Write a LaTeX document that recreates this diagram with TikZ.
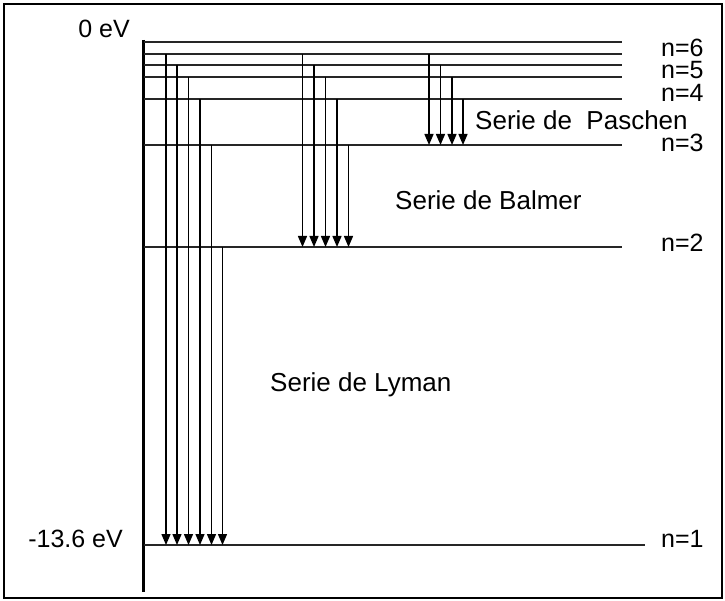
\documentclass[tikz,border=0pt]{standalone}
\usepackage{fontspec}
\setmainfont{Liberation Sans}
\usetikzlibrary{arrows.meta}
\begin{document}
\begin{tikzpicture}[x=1pt,y=-1pt,
  frame/.style={draw=black,line width=2pt},
  axisline/.style={draw=black,line width=3.5pt},
  level/.style={draw=black!85,line width=1.4pt},
  arr/.style={draw=black,line width=1.4pt,-{Triangle[width=9pt,length=11pt]}},
  lbl/.style={inner sep=0pt,font=\fontsize{25}{28}\selectfont},
  serie/.style={inner sep=0pt,anchor=west,font=\fontsize{26}{30}\selectfont}]
\useasboundingbox (0,0) rectangle (725,601);
\draw[frame] (4,4) rectangle (722,598);
% axis
\coordinate (axtop) at (143.5,40);
\coordinate (axbot) at (143.5,592);
\draw[axisline] (axtop) -- (axbot);
% levels (left end on axis, right end)
\foreach \nm/\y/\xe in {lA/42/622, lB/54/622, lC/65/622, lD/77/622, lE/99/622, lF/145/622, lG/247/622, lH/545/645}{
  \coordinate (\nm s) at (143.5,\y);
  \coordinate (\nm e) at (\xe,\y);
  \draw[level] (\nm s) -- (\nm e);
}
% Lyman series (to n=1)
\foreach \i/\x/\lv in {1/166/lB, 2/177/lC, 3/188.5/lD, 4/200/lE, 5/211.5/lF, 6/222.5/lG}{
  \coordinate (ly\i s) at (\lv s -| \x,0);
  \coordinate (ly\i e) at (lHs -| \x,0);
  \draw[arr] (ly\i s) -- (ly\i e);
}
% Balmer series (to n=2)
\foreach \i/\x/\lv in {1/302.5/lB, 2/314/lC, 3/325.5/lD, 4/337/lE, 5/348.5/lF}{
  \coordinate (ba\i s) at (\lv s -| \x,0);
  \coordinate (ba\i e) at (lGs -| \x,0);
  \draw[arr] (ba\i s) -- (ba\i e);
}
% Paschen series (to n=3)
\foreach \i/\x/\lv in {1/429/lB, 2/440.5/lC, 3/452/lD, 4/463/lE}{
  \coordinate (pa\i s) at (\lv s -| \x,0);
  \coordinate (pa\i e) at (lFs -| \x,0);
  \draw[arr] (pa\i s) -- (pa\i e);
}
% energy labels
\node[lbl,anchor=base east] (e0) at (130,38) {0 eV};
\node[lbl,anchor=base east] (e1) at (123,547) {-13.6 eV};
% n labels
\node[lbl,anchor=base west] (n6) at (661,57) {n=6};
\node[lbl,anchor=base west] (n5) at (661,79) {n=5};
\node[lbl,anchor=base west] (n4) at (661,102) {n=4};
\node[lbl,anchor=base west] (n3) at (661,152) {n=3};
\node[lbl,anchor=base west] (n2) at (661,252) {n=2};
\node[lbl,anchor=base west] (n1) at (661,547) {n=1};
% series labels
\node[serie] (sp) at (475,120) {Serie de~~Paschen};
\node[serie] (sb) at (395,200) {Serie de Balmer};
\node[serie] (sl) at (270,385) {Serie de Lyman};
\end{tikzpicture}
\end{document}
